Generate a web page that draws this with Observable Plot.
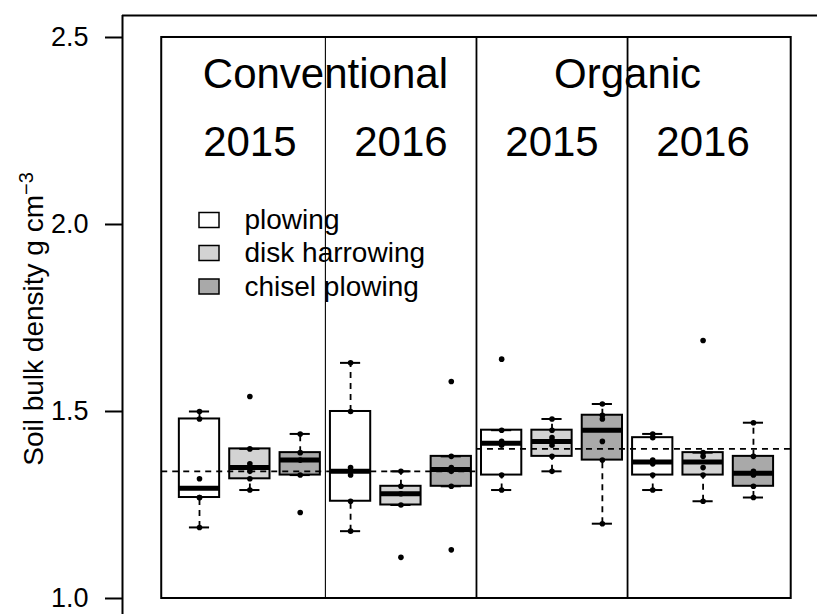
<!DOCTYPE html>
<html>
<head>
<meta charset="utf-8">
<script src="https://cdn.jsdelivr.net/npm/d3@7"></script>
<script src="https://cdn.jsdelivr.net/npm/@observablehq/plot@0.6"></script>
<style>
  body { margin: 0; background: #fff; }
  #chart svg { display: block; }
</style>
</head>
<body>
<div id="chart"></div>
<script>
// ---------- data ----------
const systems = ["Conventional", "Organic"];
const years = ["2015", "2016"];
const tillage = ["plowing", "disk harrowing", "chisel plowing"];
const yTicks = [1.0, 1.5, 2.0, 2.5];

// box statistics, in order: system > year > tillage
const lowerWhisker = [1.19, 1.29, 1.33, 1.18, 1.25, 1.30, 1.29, 1.34, 1.20, 1.29, 1.26, 1.27];
const lowerHinge   = [1.27, 1.32, 1.33, 1.26, 1.25, 1.30, 1.33, 1.38, 1.37, 1.33, 1.33, 1.30];
const medianValue  = [1.295, 1.35, 1.37, 1.34, 1.28, 1.345, 1.415, 1.42, 1.45, 1.365, 1.365, 1.335];
const upperHinge   = [1.48, 1.40, 1.39, 1.50, 1.30, 1.38, 1.45, 1.45, 1.49, 1.43, 1.39, 1.38];
const upperWhisker = [1.50, 1.40, 1.44, 1.63, 1.34, 1.38, 1.45, 1.48, 1.52, 1.44, 1.39, 1.47];

// individual observations
const observations = [
  [1.50, 1.48, 1.32, 1.27, 1.27, 1.19],
  [1.54, 1.40, 1.36, 1.34, 1.32, 1.29],
  [1.44, 1.39, 1.37, 1.33, 1.23],
  [1.63, 1.50, 1.35, 1.33, 1.26, 1.18],
  [1.34, 1.30, 1.28, 1.25, 1.11],
  [1.58, 1.38, 1.35, 1.34, 1.30, 1.13],
  [1.64, 1.45, 1.42, 1.41, 1.33, 1.29],
  [1.48, 1.45, 1.43, 1.41, 1.38, 1.34],
  [1.52, 1.49, 1.48, 1.42, 1.37, 1.20],
  [1.44, 1.43, 1.37, 1.36, 1.33, 1.29],
  [1.69, 1.39, 1.38, 1.35, 1.33, 1.26],
  [1.47, 1.38, 1.34, 1.33, 1.30, 1.27]
];

// mean line per system (dashed)
const systemMean = [1.34, 1.40];

// ---------- styles ----------
const tillageFill = ["#ffffff", "#d3d3d3", "#a9a9a9"];
const FONT = "'Liberation Sans', Arial, Helvetica, sans-serif";

// ---------- derived tables ----------
const groups = [];
systems.forEach((s, si) => years.forEach((yr, yi) => tillage.forEach((t, ti) => {
  const i = groups.length;
  groups.push({
    system: s, year: yr, tillage: t, pos: i + 1,
    lw: lowerWhisker[i], q1: lowerHinge[i], med: medianValue[i],
    q3: upperHinge[i], uw: upperWhisker[i]
  });
})));
const points = groups.flatMap((g, i) => observations[i].map(v => ({pos: g.pos, v})));
const yearLabels = systems.flatMap(s => years.map(y => ({system: s, year: y})));

// ---------- layout ----------
const W = 817, H = 614;
const mL = 122, mT = 15;
const xDomain = [-0.529, 13.272];
const yDomain = [0.9572, 2.5588];
const X = d3.scaleLinear(xDomain, [mL, W]);
const Y = d3.scaleLinear(yDomain, [H, mT]);

const half = 0.4, capHalf = 0.2;
const frameX = [0.25, 12.75];
const nPer = years.length * tillage.length;

const legendRows = [220, 253, 286.5];

const chart = Plot.plot({
  width: W, height: H,
  marginLeft: mL, marginRight: 0, marginTop: mT, marginBottom: 0,
  x: {domain: xDomain, axis: null},
  y: {domain: yDomain, axis: null},
  color: {domain: tillage, range: tillageFill},
  style: {fontFamily: FONT, color: "black", background: "white", overflow: "visible"},
  marks: [
    // outer plot region lines (left axis line and top line)
    Plot.ruleX([xDomain[0]], {stroke: "black", strokeWidth: 2}),
    Plot.ruleY([yDomain[1]], {stroke: "black", strokeWidth: 2}),
    Plot.axisY({
      anchor: "left", ticks: yTicks, tickFormat: d => d.toFixed(1),
      tickSize: 17, tickPadding: 17, fontSize: 27, strokeWidth: 2, label: null
    }),
    // inner frame
    Plot.rect([0], {x1: frameX[0], x2: frameX[1], y1: yTicks[0], y2: yTicks[3],
      fill: "none", stroke: "black", strokeWidth: 2}),
    // dividers between year blocks
    Plot.ruleX(yearLabels.slice(1), {
      x: (d, i) => (i + 1) * tillage.length + 0.5,
      y1: yTicks[0], y2: yTicks[3], stroke: "black",
      strokeWidth: (d, i) => i === 0 ? 1.1 : 1.8
    }),
    // whiskers
    Plot.ruleX(groups, {x: "pos", y1: "q3", y2: "uw", stroke: "black", strokeWidth: 1.8, strokeDasharray: "6,5"}),
    Plot.ruleX(groups, {x: "pos", y1: "lw", y2: "q1", stroke: "black", strokeWidth: 1.8, strokeDasharray: "6,5"}),
    // boxes
    Plot.rect(groups, {x1: d => d.pos - half, x2: d => d.pos + half, y1: "q1", y2: "q3",
      fill: "tillage", stroke: "black", strokeWidth: 2}),
    // staples
    Plot.ruleY(groups, {y: "uw", x1: d => d.pos - capHalf, x2: d => d.pos + capHalf, stroke: "black", strokeWidth: 2}),
    Plot.ruleY(groups, {y: "lw", x1: d => d.pos - capHalf, x2: d => d.pos + capHalf, stroke: "black", strokeWidth: 2}),
    // medians
    Plot.ruleY(groups, {y: "med", x1: d => d.pos - half, x2: d => d.pos + half, stroke: "black", strokeWidth: 5}),
    // system mean dashed lines
    Plot.ruleY(systems, {
      y: (d, i) => systemMean[i],
      x1: (d, i) => i === 0 ? frameX[0] : i * nPer + 0.5,
      x2: (d, i) => i === systems.length - 1 ? frameX[1] : (i + 1) * nPer + 0.5,
      stroke: "black", strokeWidth: 1.7, strokeDasharray: "6,5"
    }),
    // observations
    Plot.dot(points, {x: "pos", y: "v", r: 2.8, fill: "black", stroke: "none"}),
    // system titles
    Plot.text(systems, {x: (d, i) => i * nPer + nPer / 2 + 0.5, y: 2.365, text: d => d,
      fontSize: 42, lineAnchor: "bottom", fill: "black"}),
    // year titles
    Plot.text(yearLabels, {x: (d, i) => i * tillage.length + 2, y: 2.183, text: "year",
      fontSize: 42, lineAnchor: "bottom", fill: "black"}),
    // legend
    Plot.rect(tillage, {
      x1: X.invert(199), x2: X.invert(219),
      y1: (d, i) => Y.invert(legendRows[i] + 7.5), y2: (d, i) => Y.invert(legendRows[i] - 7.5),
      fill: d => d, stroke: "black", strokeWidth: 1.5
    }),
    Plot.text(tillage, {
      x: X.invert(244), y: (d, i) => Y.invert(legendRows[i]), text: d => d,
      textAnchor: "start", lineAnchor: "middle", fontSize: 28, fill: "black"
    }),
    // y axis title
    Plot.text(["Soil bulk density g cm"], {
      frameAnchor: "left", dx: -80, dy: 4, rotate: -90, text: d => d,
      textAnchor: "middle", lineAnchor: "bottom", fontSize: 28, fill: "black"
    })
  ]
});

// superscript on the y label
d3.select(chart).selectAll("text").filter(function () {
  return this.textContent === "Soil bulk density g cm";
}).append("tspan").attr("dy", "-0.5em").attr("font-size", "20px").text("\u22123");

document.getElementById("chart").appendChild(chart);
</script>
</body>
</html>
